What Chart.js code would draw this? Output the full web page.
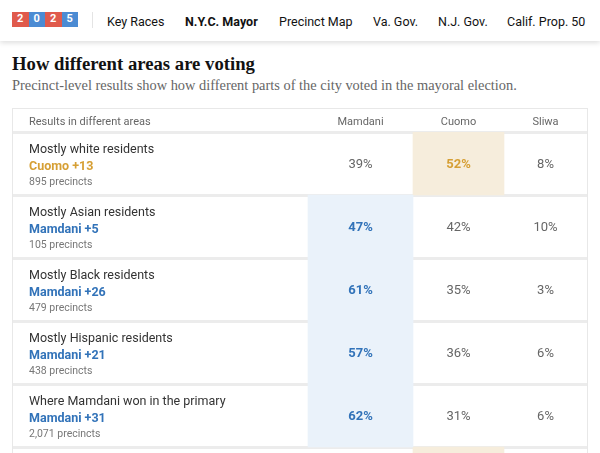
<!DOCTYPE html>
<html>
<head>
<meta charset="utf-8">
<script src="https://cdn.jsdelivr.net/npm/chart.js@4.4.1/dist/chart.umd.min.js"></script>
<style>
  body { margin: 0; width: 600px; height: 453px; overflow: hidden; background: #fff; font-family: Roboto, sans-serif; position: relative; }
  .nav { position: absolute; left: 0; top: 0; width: 600px; height: 41px; background: #fff; box-shadow: 0 2px 5px rgba(0,0,0,0.13); z-index: 2; }
  .logo { position: absolute; left: 12px; top: 12px; display: flex; }
  .logo span { width: 16.5px; height: 15px; line-height: 15px; text-align: center; color: #fff; font: bold 11px Roboto, sans-serif; }
  .red { background: #e05a4c; }
  .blue { background: #4b8bd3; }
  .sep { position: absolute; left: 92px; top: 12px; width: 1px; height: 16px; background: #e4e4e4; }
  .nav a { position: absolute; top: 14px; font-size: 12.5px; line-height: 15px; color: #121212; text-decoration: none; white-space: nowrap; }
  .nav a.on { font-weight: bold; }
  h1 { position: absolute; left: 12px; top: 54px; margin: 0; font: bold 18.7px/19px "Liberation Serif", serif; color: #121212; }
  .sub { position: absolute; left: 12px; top: 78px; margin: 0; font: 14.4px/14px "Liberation Serif", serif; color: #666; }
  .box { position: absolute; left: 12px; top: 108px; width: 574px; height: 360px; border: 1px solid #e8e8e8; overflow: hidden; }
</style>
</head>
<body>
<div class="nav">
  <div class="logo"><span class="red">2</span><span class="blue">0</span><span class="red">2</span><span class="blue">5</span></div>
  <div class="sep"></div>
  <a style="left:107px">Key Races</a>
  <a class="on" style="left:185px">N.Y.C. Mayor</a>
  <a style="left:279px">Precinct Map</a>
  <a style="left:373px">Va. Gov.</a>
  <a style="left:438px">N.J. Gov.</a>
  <a style="left:507px">Calif. Prop. 50</a>
</div>
<h1>How different areas are voting</h1>
<p class="sub">Precinct-level results show how different parts of the city voted in the mayoral election.</p>
<div class="box"><canvas id="results_table" width="574" height="401"></canvas></div>

<script>
// Table data

var areas = ["Mostly white residents", "Mostly Asian residents", "Mostly Black residents",
             "Mostly Hispanic residents", "Where Mamdani won in the primary", ""];
var precincts = ["895 precincts", "105 precincts", "479 precincts", "438 precincts", "2,071 precincts", ""];
var candidates = ["Mamdani", "Cuomo", "Sliwa"];
var mamdani = [39, 47, 61, 57, 62, null];
var cuomo = [52, 42, 35, 36, 31, null];
var sliwa = [8, 10, 3, 6, 6, null];
var leaders = ["Cuomo", "Mamdani", "Mamdani", "Mamdani", "Mamdani", "Cuomo"];

var values = [mamdani, cuomo, sliwa];

// layout: column edges in canvas px (label column, then one per candidate)
var colEdges = [0, 295, 400, 491, 574];
var tint = { Mamdani: '#eaf2fa', Cuomo: '#f6eddc', Sliwa: '#eeeeee' };
var ink = { Mamdani: '#3273b9', Cuomo: '#d69f34', Sliwa: '#555555' };

var datasets = candidates.map(function(c, k) {
    return {
        label: c,
        data: areas.map(function() { return [colEdges[k + 1], colEdges[k + 2]]; }),
        backgroundColor: leaders.map(function(l) { return l === c ? tint[c] : 'rgba(0,0,0,0)'; }),
        borderWidth: 0,
        grouped: false,
        barPercentage: 1,
        categoryPercentage: 1
    };
});

// draws the header, row labels and the percentages in each cell
var cellText = {
    id: 'cellText',
    afterDatasetsDraw: function(chart) {
        var ctx = chart.ctx;
        var y = chart.scales.y;
        ctx.save();
        ctx.textBaseline = 'middle';

        ctx.textAlign = 'left';
        ctx.fillStyle = '#666';
        ctx.font = '11px Roboto';
        ctx.fillText("Results in different areas", 16, 13.5);

        ctx.textAlign = 'center';
        candidates.forEach(function(c, k) {
            var el = chart.getDatasetMeta(k).data[0];
            ctx.fillStyle = '#666';
            ctx.font = '11px Roboto';
            ctx.fillText(c, (el.x + el.base) / 2, 13.5);
        });

        areas.forEach(function(a, i) {
            var yc = y.getPixelForValue(i);
            if (values[0][i] == null) return;
            var li = candidates.indexOf(leaders[i]);
            var sorted = values.map(function(v) { return v[i]; }).sort(function(p, q) { return q - p; });
            var margin = values[li][i] - sorted[1];

            ctx.textAlign = 'left';
            ctx.fillStyle = '#333';
            ctx.font = '12.5px Roboto';
            ctx.fillText(a, 16, yc - 14);
            ctx.fillStyle = ink[leaders[i]];
            ctx.font = 'bold 12.5px Roboto';
            ctx.fillText(leaders[i] + " +" + margin, 16, yc + 3);
            ctx.fillStyle = '#777';
            ctx.font = '10.5px Roboto';
            ctx.fillText(precincts[i], 16, yc + 18.5);

            ctx.textAlign = 'center';
            candidates.forEach(function(c, k) {
                var el = chart.getDatasetMeta(k).data[i];
                var win = leaders[i] === c;
                ctx.fillStyle = win ? ink[c] : '#666';
                ctx.font = (win ? 'bold ' : '') + '13px Roboto';
                ctx.fillText(values[k][i] + '%', (el.x + el.base) / 2, yc + 1);
            });
        });
        ctx.restore();
    }
};

var tableOptions = {
    indexAxis: 'y',
    responsive: false,
    animation: false,
    layout: { padding: { top: 23, left: 0, right: 0, bottom: 0 } },
    plugins: { legend: { display: false }, tooltip: { enabled: false } },
    scales: {
        x: { type: 'linear', min: 0, max: 574, display: false },
        y: {
            type: 'category',
            grid: { offset: true, color: '#ececec', lineWidth: 3, drawTicks: false },
            ticks: { display: false },
            border: { display: false },
            afterFit: function(s) { s.width = 0; }
        }
    }
};

var ctx = document.getElementById("results_table").getContext("2d");
new Chart(ctx, { type: 'bar', data: { labels: areas, datasets: datasets }, options: tableOptions, plugins: [cellText] });
</script>
</body>
</html>
